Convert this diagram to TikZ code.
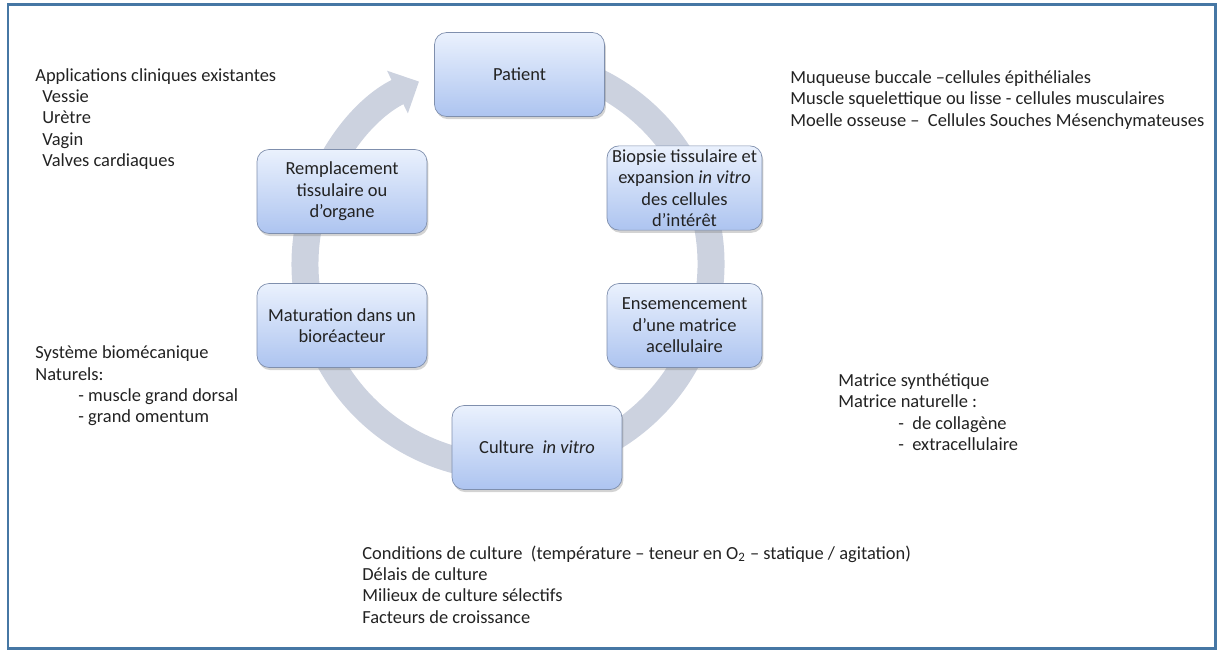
\documentclass[tikz,border=0pt]{standalone}
\usepackage{fontspec}
\setmainfont{Carlito}
\usepackage{tikz}
\usetikzlibrary{arrows.meta,shadows}

\definecolor{anneau}{HTML}{CCD2DF}
\definecolor{boxtop}{HTML}{EAF1FD}
\definecolor{boxbot}{HTML}{ADC4F0}
\definecolor{boxline}{HTML}{7F8FAD}
\definecolor{cadre}{HTML}{4677A4}
\definecolor{texte}{HTML}{222222}

\tikzset{
  etape/.style={rounded corners=0.24cm, draw=boxline, thin, top color=boxtop, bottom color=boxbot,
    minimum width=3.4cm, minimum height=1.68cm, align=center, text=texte, inner sep=2pt,
    drop shadow={shadow xshift=0.8pt, shadow yshift=-1.5pt, opacity=0.35}},
  etroite/.style={etape, minimum width=3.1cm},
  liste/.style={anchor=west, align=left, inner sep=0pt, text=texte},
}

\begin{document}
\begin{tikzpicture}[x=0.02cm, y=-0.02cm, font=\fontsize{10.5pt}{12.2pt}\selectfont]
  \useasboundingbox (0,0) rectangle (1219,652);
  \draw[cadre, line width=0.06cm] (8,5) rectangle (1215,648); % frame round the figure
  \coordinate (centre) at (508,264);
  % the cycle ring, drawn first so that the boxes sit on top of it
  \draw[anneau, line width=0.54cm, -{Triangle[length=0.48cm,width=0.92cm]}]
    (centre) ++(-80:203) arc[start angle=-80, end angle=244, radius=203];

  \node[etape] (patient) at (519.5,74.5) {Patient};
  \node[etroite] (biopsie) at (684.5,188) {Biopsie tissulaire et\\expansion \textit{in vitro}\\des cellules\\d’intérêt};
  \node[etroite] (ensemencement) at (684.5,325.5) {Ensemencement\\d’une matrice\\acellulaire};
  \node[etape] (culture) at (537,447.5) {Culture\ \ \textit{in vitro}};
  \node[etape] (maturation) at (342,325.5) {Maturation dans un\\bioréacteur};
  \node[etape] (remplacement) at (342,191.5) {Remplacement\\tissulaire ou\\d’organe};

  % notes round the cycle
  \node[liste] (applications) at (35,119) {Applications cliniques existantes\\
    \hspace*{0.14cm}Vessie\\\hspace*{0.14cm}Urètre\\\hspace*{0.14cm}Vagin\\\hspace*{0.14cm}Valves cardiaques};
  \node[liste] (sources) at (790,100) {Muqueuse buccale –cellules épithéliales\\
    Muscle squelettique ou lisse - cellules musculaires\\
    Moelle osseuse –\ \ Cellules Souches Mésenchymateuses};
  \node[liste] (systemes) at (35,386) {Système biomécanique\\Naturels:\\
    \hspace*{0.86cm}- muscle grand dorsal\\\hspace*{0.86cm}- grand omentum};
  \node[liste] (matrices) at (838,412) {Matrice synthétique\\Matrice naturelle :\\
    \hspace*{1.2cm}-\ \ de collagène\\\hspace*{1.2cm}-\ \ extracellulaire};
  \node[liste] (conditions) at (362,584.5) {Conditions de culture\ \ (température – teneur en O\textsubscript{2} – statique / agitation)\\
    Délais de culture\\Milieux de culture sélectifs\\Facteurs de croissance};
\end{tikzpicture}
\end{document}
